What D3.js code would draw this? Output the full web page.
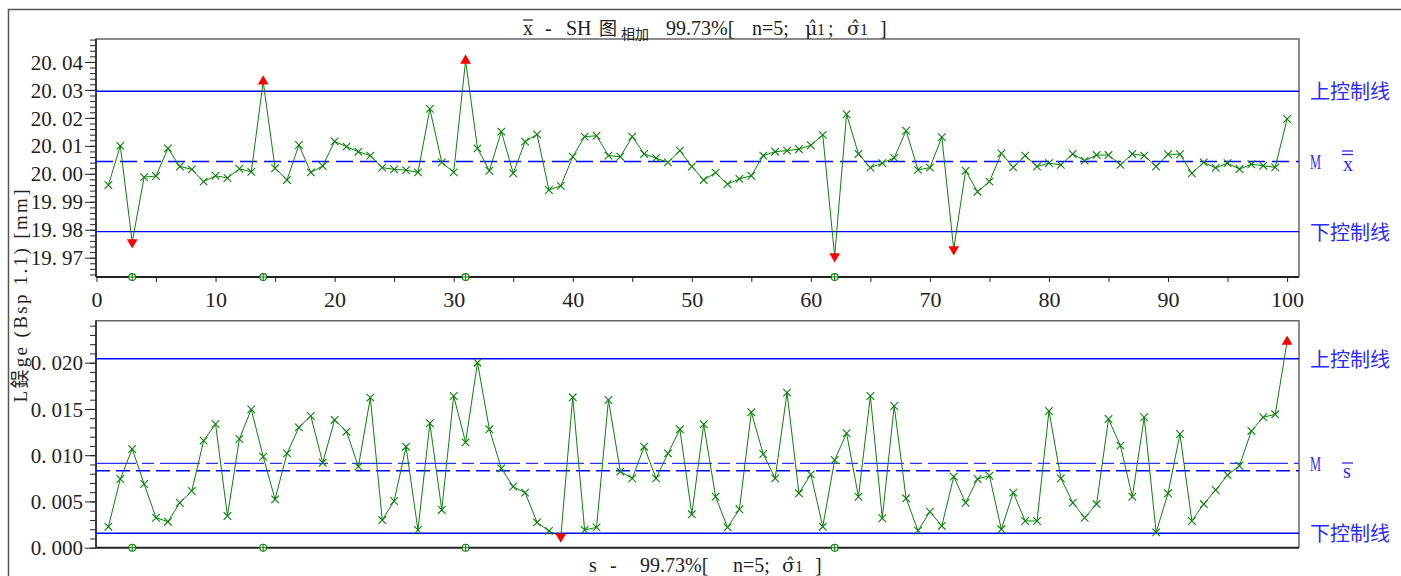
<!DOCTYPE html>
<html>
<head>
<meta charset="utf-8">
<script src="https://cdn.jsdelivr.net/npm/d3@7"></script>
<style>
  body { margin: 0; background: #fff; }
  svg { display: block; }
</style>
</head>
<body>
<div class="chart"></div>
<script>
// sample means (x-bar chart), n = 5, samples 1..100
const sampleMeans = [
  19.9960, 20.0100, 19.9755, 19.9988, 19.9992, 20.0091, 20.0026, 20.0016, 19.9972, 19.9993,
  19.9985, 20.0018, 20.0007, 20.0330, 20.0020, 19.9978, 20.0103, 20.0005, 20.0028, 20.0116,
  20.0097, 20.0079, 20.0065, 20.0022, 20.0016, 20.0013, 20.0005, 20.0232, 20.0041, 20.0005,
  20.0405, 20.0091, 20.0011, 20.0151, 20.0002, 20.0115, 20.0141, 19.9942, 19.9957, 20.0061,
  20.0133, 20.0136, 20.0065, 20.0061, 20.0133, 20.0071, 20.0056, 20.0041, 20.0083, 20.0026,
  19.9978, 20.0004, 19.9963, 19.9982, 19.9993, 20.0065, 20.0079, 20.0083, 20.0088, 20.0102,
  20.0139, 19.9705, 20.0213, 20.0071, 20.0022, 20.0038, 20.0057, 20.0154, 20.0014, 20.0022,
  20.0131, 19.9730, 20.0011, 19.9936, 19.9972, 20.0073, 20.0023, 20.0065, 20.0026, 20.0038,
  20.0032, 20.0071, 20.0047, 20.0067, 20.0067, 20.0032, 20.0071, 20.0065, 20.0026, 20.0070,
  20.0070, 20.0002, 20.0041, 20.0021, 20.0038, 20.0017, 20.0034, 20.0029, 20.0023, 20.0196
];

// sample standard deviations (s chart)
const sampleSD = [
  0.00227, 0.00743, 0.01067, 0.00689, 0.00324, 0.00281, 0.00486, 0.00613, 0.01157, 0.01337,
  0.00343, 0.01175, 0.01496, 0.00984, 0.00523, 0.01020, 0.01301, 0.01424, 0.00919, 0.01381,
  0.01254, 0.00876, 0.01622, 0.00299, 0.00505, 0.01092, 0.00191, 0.01345, 0.00408, 0.01640,
  0.01139, 0.02000, 0.01280, 0.00858, 0.00660, 0.00595, 0.00274, 0.00181, 0.00120, 0.01626,
  0.00191, 0.00220, 0.01597, 0.00822, 0.00750, 0.01092, 0.00750, 0.01020, 0.01280, 0.00361,
  0.01334, 0.00551, 0.00220, 0.00415, 0.01464, 0.01013, 0.00750, 0.01676, 0.00588, 0.00793,
  0.00227, 0.00948, 0.01237, 0.00551, 0.01640, 0.00318, 0.01532, 0.00534, 0.00184, 0.00389,
  0.00235, 0.00768, 0.00486, 0.00743, 0.00778, 0.00199, 0.00595, 0.00289, 0.00289, 0.01478,
  0.00750, 0.00486, 0.00324, 0.00472, 0.01391, 0.01103, 0.00551, 0.01410, 0.00166, 0.00588,
  0.01229, 0.00289, 0.00472, 0.00624, 0.00786, 0.00886, 0.01262, 0.01410, 0.01442, 0.02227
];

// control limits
const xbarUCL = 20.0295, xbarCenter = 20.0044, xbarLCL = 19.9793;
const sUCL = 0.02043, sTarget = 0.00912, sBar = 0.00832, sLCL = 0.00156;

// samples flagged on the axis
const flaggedSamples = [3, 14, 31, 62];

// tick labels
const xbarTicks = [19.97, 19.98, 19.99, 20.00, 20.01, 20.02, 20.03, 20.04];
const sTicks = [0.000, 0.005, 0.010, 0.015, 0.020];
const xTicks = [0, 10, 20, 30, 40, 50, 60, 70, 80, 90, 100];

const width = 1401;
const height = 576;
const SERIF = "'Liberation Serif','DejaVu Serif','Noto Sans CJK SC',serif";
const DJV = "'DejaVu Serif',serif";
const CJK = "'Noto Sans CJK SC',sans-serif";
const GREEN = "#0a820a";
const BLUE = "#0000ff";
const LABEL_BLUE = "#2a2aff";

const svg = d3.select(".chart")
  .append("svg")
  .attr("width", width)
  .attr("height", height);

// outer frame
svg.append("path")
  .attr("d", "M8.5,576 V9.5 H1401")
  .attr("fill", "none")
  .attr("stroke", "#555")
  .attr("stroke-width", 1.5);

const x = d3.scaleLinear().domain([0, 101]).range([96.5, 1299]);
const yTop = d3.scaleLinear().domain([19.9631, 20.0482]).range([277, 39]);
const yBot = d3.scaleLinear().domain([0, 0.02454]).range([547.7, 320.7]);

function splitLabel(sel, fmt) {
  sel.selectAll(".tick text").each(function (d) {
    const parts = fmt(d).split(".");
    const t = d3.select(this).text(null);
    t.append("tspan").text(parts[0] + ".");
    t.append("tspan").attr("dx", 5).text(parts[1]);
  });
}

function panel(yScale, values, minorCount, majorVals, fmt, limits) {
  const top = yScale.range()[1], bottom = yScale.range()[0];
  const left = x.range()[0] - 0.5, right = x.range()[1];
  const g = svg.append("g");

  // minor ticks
  g.append("g")
    .attr("transform", `translate(${left},0)`)
    .call(d3.axisLeft(yScale).ticks(minorCount).tickSize(6).tickSizeOuter(0).tickFormat(""))
    .call(a => a.select(".domain").remove())
    .selectAll("line").attr("stroke", "#222");

  // major ticks + labels
  const maj = g.append("g")
    .attr("transform", `translate(${left},0)`)
    .call(d3.axisLeft(yScale).tickValues(majorVals).tickSize(11).tickSizeOuter(0).tickFormat(fmt).tickPadding(2));
  maj.select(".domain").remove();
  maj.selectAll("line").attr("stroke", "#222");
  maj.selectAll("text")
    .attr("font-family", SERIF)
    .attr("font-size", 21)
    .attr("fill", "#222")
    .attr("dy", "0.34em");
  splitLabel(maj, fmt);

  // frame
  g.append("path")
    .attr("d", `M${left},${bottom} V${top} H${right} V${bottom}`)
    .attr("fill", "none").attr("stroke", "#666").attr("stroke-width", 1.5);
  g.append("line")
    .attr("x1", left).attr("x2", right).attr("y1", bottom).attr("y2", bottom)
    .attr("stroke", "#222").attr("stroke-width", 2);
  g.append("line")
    .attr("x1", left).attr("x2", left).attr("y1", top).attr("y2", bottom)
    .attr("stroke", "#222").attr("stroke-width", 1.5);

  // control lines
  limits.forEach(l => {
    g.append("line")
      .attr("x1", left).attr("x2", right)
      .attr("y1", yScale(l.v)).attr("y2", yScale(l.v))
      .attr("stroke", l.c || BLUE)
      .attr("stroke-width", l.w || 1.5)
      .attr("stroke-dasharray", l.dash || null);
  });

  // data line
  const line = d3.line().x((d, i) => x(i + 1)).y(d => yScale(d));
  g.append("path")
    .datum(values)
    .attr("d", line)
    .attr("fill", "none")
    .attr("stroke", GREEN)
    .attr("stroke-width", 1);

  const ucl = limits[0].v, lcl = limits[limits.length - 1].v;
  const pts = values.map((v, i) => ({ n: i + 1, v }));

  // x markers for in-control points
  g.selectAll("path.mark")
    .data(pts.filter(p => p.v <= ucl && p.v >= lcl))
    .enter()
    .append("path")
    .attr("class", "mark")
    .attr("d", p => {
      const cx = x(p.n), cy = yScale(p.v), r = 3.8;
      return `M${cx - r},${cy - r}L${cx + r},${cy + r}M${cx - r},${cy + r}L${cx + r},${cy - r}`;
    })
    .attr("stroke", GREEN)
    .attr("stroke-width", 1.1);

  // red triangles for out-of-control points
  g.selectAll("path.out")
    .data(pts.filter(p => p.v > ucl || p.v < lcl))
    .enter()
    .append("path")
    .attr("class", "out")
    .attr("d", d3.symbol().type(d3.symbolTriangle).size(50))
    .attr("transform", p => `translate(${x(p.n)},${yScale(p.v)})` + (p.v < lcl ? " rotate(180)" : ""))
    .attr("fill", "#ff0000");

  // flag markers on the bottom axis
  flaggedSamples.forEach(n => {
    const cx = x(n);
    g.append("circle")
      .attr("cx", cx).attr("cy", bottom).attr("r", 3.4)
      .attr("fill", "#fff").attr("stroke", GREEN).attr("stroke-width", 1.1);
    g.append("path")
      .attr("d", `M${cx - 3.4},${bottom}H${cx + 3.4}M${cx},${bottom - 3.4}V${bottom + 3.4}`)
      .attr("stroke", GREEN).attr("stroke-width", 1);
  });
  return g;
}

panel(yTop, sampleMeans, 40, xbarTicks, d3.format(".2f"), [
  { v: xbarUCL },
  { v: xbarCenter, dash: "17,7", w: 1.5 },
  { v: xbarLCL, w: 1.2 }
]);

panel(yBot, sampleSD, 25, sTicks, d3.format(".3f"), [
  { v: sUCL },
  { v: sTarget, dash: "40,6,12,6", w: 1.1, c: "#2f2fff" },
  { v: sBar, dash: "14,6", w: 1.6 },
  { v: sLCL, w: 1.3 }
]);

// x axis (top panel only)
const xAxis = svg.append("g")
  .attr("transform", "translate(0,277)")
  .call(d3.axisBottom(x).tickValues(d3.range(0, 101, 5)).tickSize(5).tickSizeOuter(0)
    .tickFormat(d => xTicks.includes(d) ? d : ""));
xAxis.select(".domain").remove();
xAxis.selectAll("line").attr("stroke", "#222");
xAxis.selectAll("text")
  .attr("font-family", SERIF)
  .attr("font-size", 22)
  .attr("fill", "#222")
  .attr("y", 14);

// titles
function put(t, xx, yy, size, family) {
  return svg.append("text")
    .attr("x", xx).attr("y", yy)
    .attr("font-family", family || SERIF)
    .attr("font-size", size)
    .attr("fill", "#222")
    .text(t);
}
put("x", 523, 35, 20);
svg.append("line").attr("x1", 523).attr("x2", 533).attr("y1", 20).attr("y2", 20).attr("stroke", "#222").attr("stroke-width", 1.2);
put("-", 545, 35, 20);
put("SH", 566, 35, 20);
put("图", 599, 35, 18, CJK);
put("相加", 621, 39, 14, CJK);
put("99.73%[", 666, 35, 20);
put("n=5;", 752, 35, 20);
put("\u03BC\u0302", 805, 35, 19, DJV);
put("1", 817, 35, 16);
put(";", 828, 35, 20);
put("\u03C3\u0302", 847, 35, 19, DJV);
put("1", 860, 35, 16);
put("]", 880, 35, 20);

put("s", 589, 572, 20);
put("-", 610, 572, 20);
put("99.73%[", 640, 572, 20);
put("n=5;", 733, 572, 20);
put("\u03C3\u0302", 782, 572, 19, DJV);
put("1", 795, 572, 16);
put("]", 815, 572, 20);

// y axis title
svg.append("text")
  .attr("transform", "translate(27,296) rotate(-90)")
  .attr("text-anchor", "middle")
  .attr("font-family", SERIF)
  .attr("font-size", 19)
  .attr("fill", "#222")
  .attr("textLength", 213)
  .attr("lengthAdjust", "spacing")
  .text("L鋘ge (Bsp 1.1) [mm]");

// right-hand labels
function rlabel(t, yy) {
  svg.append("text")
    .attr("x", 1310).attr("y", yy)
    .attr("font-family", CJK)
    .attr("font-size", 20)
    .attr("fill", LABEL_BLUE)
    .text(t);
}
rlabel("上控制线", 99);
rlabel("下控制线", 240);
rlabel("上控制线", 367);
rlabel("下控制线", 541);

function mlabel(yy) {
  svg.append("text")
    .attr("x", 1310).attr("y", yy)
    .attr("font-family", SERIF)
    .attr("font-size", 20)
    .attr("fill", LABEL_BLUE)
    .attr("textLength", 11)
    .attr("lengthAdjust", "spacingAndGlyphs")
    .text("M");
}
mlabel(169);
mlabel(471);

svg.append("text").attr("x", 1343).attr("y", 171).attr("font-family", SERIF).attr("font-size", 20).attr("fill", LABEL_BLUE).text("x");
svg.append("line").attr("x1", 1342).attr("x2", 1353).attr("y1", 151).attr("y2", 151).attr("stroke", LABEL_BLUE).attr("stroke-width", 1.3);
svg.append("line").attr("x1", 1342).attr("x2", 1353).attr("y1", 154.5).attr("y2", 154.5).attr("stroke", LABEL_BLUE).attr("stroke-width", 1.3);

svg.append("text").attr("x", 1343).attr("y", 478).attr("font-family", SERIF).attr("font-size", 20).attr("fill", LABEL_BLUE).text("s");
svg.append("line").attr("x1", 1342).attr("x2", 1353).attr("y1", 463).attr("y2", 463).attr("stroke", LABEL_BLUE).attr("stroke-width", 1.3);
</script>
</body>
</html>
